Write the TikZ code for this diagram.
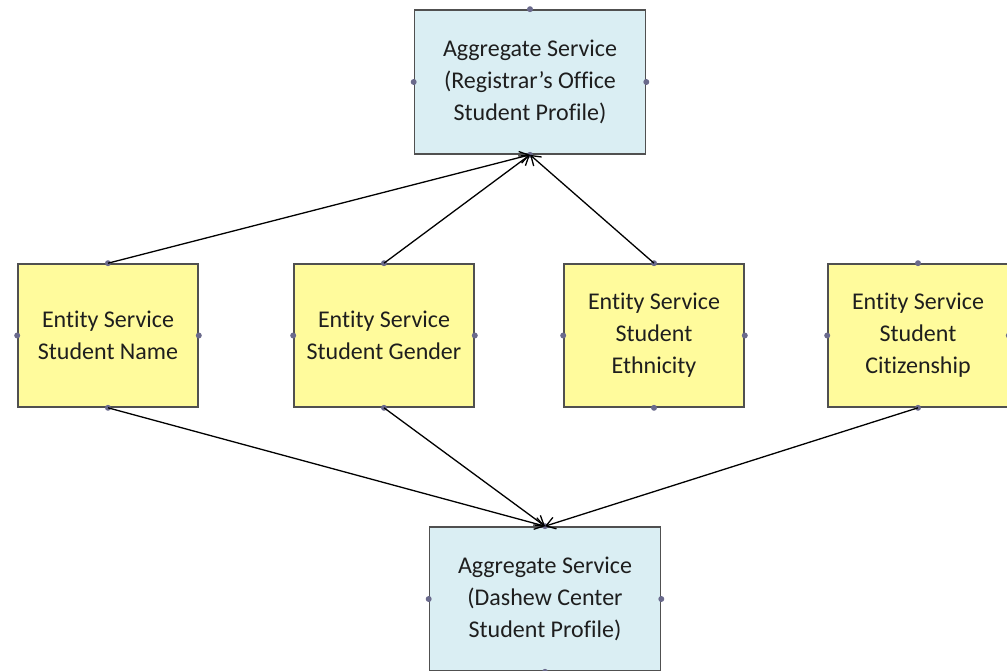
\documentclass[tikz,border=0pt]{standalone}
\usepackage{fontspec}
\setmainfont{Carlito}[Ligatures={TeX,NoCommon}]
\usetikzlibrary{arrows.meta}
\definecolor{aggblue}{HTML}{DAEEF3}
\definecolor{entyellow}{HTML}{FFFB9C}
\definecolor{boxline}{HTML}{505050}
\definecolor{pindot}{HTML}{6A6A8C}
\definecolor{txt}{HTML}{1E1E1E}
\begin{document}
\begin{tikzpicture}[x=1pt,y=-1pt,>={Straight Barb[length=9pt,width=12pt]},
    box/.style={rectangle,draw=boxline,line width=1.6pt,align=center,text=txt,
        font=\fontsize{24}{32}\selectfont},
    agg/.style={box,fill=aggblue,minimum width=231pt,minimum height=144pt},
    ent/.style={box,fill=entyellow,minimum width=180pt,minimum height=143pt}]
    \useasboundingbox (0,0) rectangle (1007,671);
    \node[agg] (reg) at (530,82) {Aggregate Service\\(Registrar's Office\\Student Profile)};
    \node[ent] (name) at (108,335.5) {Entity Service\\Student Name};
    \node[ent] (gender) at (384,335.5) {Entity Service\\Student Gender};
    \node[ent] (ethnicity) at (654,335.5) {Entity Service\\Student\\Ethnicity};
    \node[ent] (citizenship) at (918,335.5) {Entity Service\\Student\\Citizenship};
    \node[agg] (dashew) at (545,599) {Aggregate Service\\(Dashew Center\\Student Profile)};
    % connection points
    \foreach \n in {reg,name,gender,ethnicity,citizenship,dashew}
        \foreach \a in {north,south,east,west}
            \fill[pindot] (\n.\a) circle (3pt);
    \draw[->,line width=1.3pt] (name.north) -- (reg.south);
    \draw[->,line width=1.3pt] (gender.north) -- (reg.south);
    \draw[->,line width=1.3pt] (ethnicity.north) -- (reg.south);
    \draw[->,line width=1.3pt] (name.south) -- (dashew.north);
    \draw[->,line width=1.3pt] (gender.south) -- (dashew.north);
    \draw[->,line width=1.3pt] (citizenship.south) -- (dashew.north);
\end{tikzpicture}
\end{document}
